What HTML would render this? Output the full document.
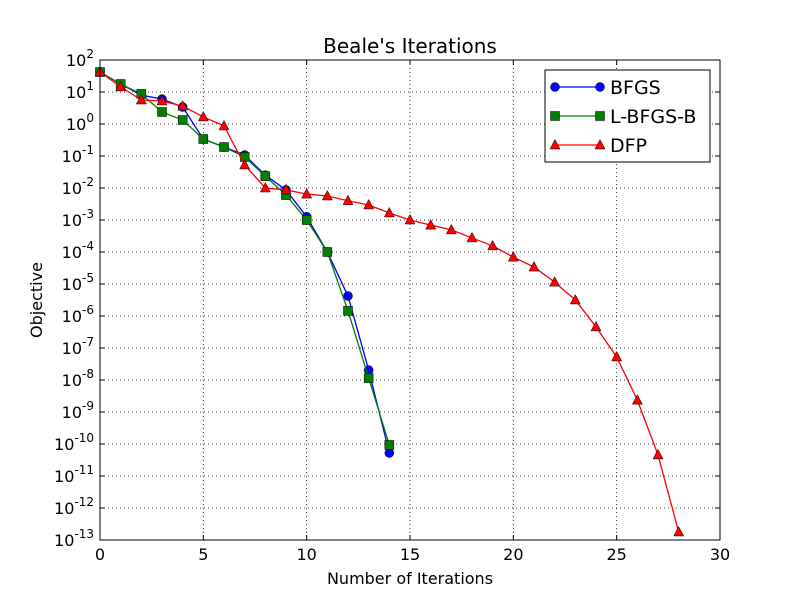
<!DOCTYPE html>
<html><head><meta charset="utf-8"><style>
body{margin:0;background:#fff}
svg text{font-family:"DejaVu Sans","Liberation Sans",sans-serif;fill:#000}
</style></head><body>
<svg id="chart" width="800" height="600" xmlns="http://www.w3.org/2000/svg">
<rect width="800" height="600" fill="#fff"/>
<g id="grid"></g><g id="series"></g><g id="axes"></g>
<text x="410" y="53" font-size="20" text-anchor="middle">Beale's Iterations</text>
<text x="410" y="584" font-size="16" text-anchor="middle">Number of Iterations</text>
<text x="42" y="300" font-size="16" text-anchor="middle" transform="rotate(-90 42 300)">Objective</text>
<g id="legend">
<rect x="545" y="70" width="165" height="92" fill="#fff" stroke="#000" stroke-width="1"/>
</g>
</svg>
<script>
const iterations = [0,1,2,3,4,5,6,7,8,9,10,11,12,13,14,15,16,17,18,19,20,21,22,23,24,25,26,27,28];
const bfgsLog = [1.625,1.25,0.9,0.78,0.53,-0.47,-0.72,-0.97,-1.6,-2.06,-2.9,-4,-5.375,-7.69,-10.28];
const lbfgsLog = [1.625,1.25,0.94,0.375,0.125,-0.47,-0.72,-1.03,-1.63,-2.22,-3.0,-4,-5.84,-7.94,-10.03];
const dfpLog = [1.625,1.16,0.75,0.72,0.56,0.22,-0.06,-1.28,-2,-2.06,-2.19,-2.25,-2.4,-2.53,-2.78,-3,-3.16,-3.31,-3.56,-3.81,-4.16,-4.47,-4.94,-5.5,-6.34,-7.28,-8.63,-10.34,-12.75];
const xTicks = [0,5,10,15,20,25,30];
const yTicks = [2,1,0,-1,-2,-3,-4,-5,-6,-7,-8,-9,-10,-11,-12,-13];
const L=100,R=720,T=60,B=540;
const xs=v=>L+(v-0)/30*(R-L);
const ys=v=>T+(2-v)/15*(B-T);
const NS="http://www.w3.org/2000/svg";
function mk(tag,attrs,parent){const e=document.createElementNS(NS,tag);for(const k in attrs)e.setAttribute(k,attrs[k]);parent.appendChild(e);return e;}
const grid=document.getElementById('grid'),axes=document.getElementById('axes'),ser=document.getElementById('series');
xTicks.forEach(t=>{
  if(t>0&&t<30){const g=mk('line',{x1:xs(t),x2:xs(t),y1:T,y2:B,stroke:'#000','stroke-dasharray':'1,3','stroke-width':0.8},grid);
  
  }
  mk('line',{x1:xs(t),x2:xs(t),y1:B,y2:B-5,stroke:'#000'},axes);
  mk('line',{x1:xs(t),x2:xs(t),y1:T,y2:T+5,stroke:'#000'},axes);
  const tx=mk('text',{x:xs(t),y:B+20,'font-size':16,'text-anchor':'middle'},axes);tx.textContent=t;
  
  
});
yTicks.forEach(t=>{
  if(t<2&&t>-13){const g=mk('line',{x1:L,x2:R,y1:ys(t),y2:ys(t),stroke:'#000','stroke-dasharray':'1,3','stroke-width':0.8},grid);
  
  }
  mk('line',{x1:L,x2:L+5,y1:ys(t),y2:ys(t),stroke:'#000'},axes);
  mk('line',{x1:R,x2:R-5,y1:ys(t),y2:ys(t),stroke:'#000'},axes);
  const tx=mk('text',{x:L-6,y:ys(t)+6,'font-size':16,'text-anchor':'end'},axes);
  tx.innerHTML='10<tspan dy="-8" font-size="12">'+t+'</tspan>';
  
  
});
const frame=mk('rect',{x:L,y:T,width:R-L,height:B-T,fill:'none',stroke:'#000','stroke-width':1},axes);


function marker(type,x,y,color,parent){
  if(type==='o')return mk('circle',{cx:x,cy:y,r:4.5,fill:color,stroke:'#000','stroke-width':0.5},parent);
  if(type==='s')return mk('rect',{x:x-4.5,y:y-4.5,width:9,height:9,fill:color,stroke:'#000','stroke-width':0.5},parent);
  return mk('polygon',{points:`${x},${y-5.5} ${x-5},${y+4} ${x+5},${y+4}`,fill:color,stroke:'#000','stroke-width':0.5},parent);
}
function series(vals,color,type,name){
  const g=mk('g',{},ser);
  
  
  const pts=vals.map((v,i)=>xs(iterations[i])+','+ys(v)).join(' ');
  mk('polyline',{points:pts,fill:'none',stroke:color,'stroke-width':1.3},g);
  vals.forEach((v,i)=>{const m=marker(type,xs(iterations[i]),ys(v),color,g);
    
    });
}
series(bfgsLog,'#0000ff','o','bfgs');
series(lbfgsLog,'#008000','s','lbfgsb');
series(dfpLog,'#ff0000','^','dfp');
const lg=document.getElementById('legend');
[['BFGS','#0000ff','o',87],['L-BFGS-B','#008000','s',116],['DFP','#ff0000','^',145]].forEach(([n,c,t,y])=>{
  const g=mk('g',{},lg);
  
  
  mk('line',{x1:555,x2:600,y1:y,y2:y,stroke:c,'stroke-width':1.3},g);
  marker(t,555,y,c,g);marker(t,600,y,c,g);
  const tx=mk('text',{x:610,y:y+7,'font-size':19},g);tx.textContent=n;
});
</script>
</body></html>
